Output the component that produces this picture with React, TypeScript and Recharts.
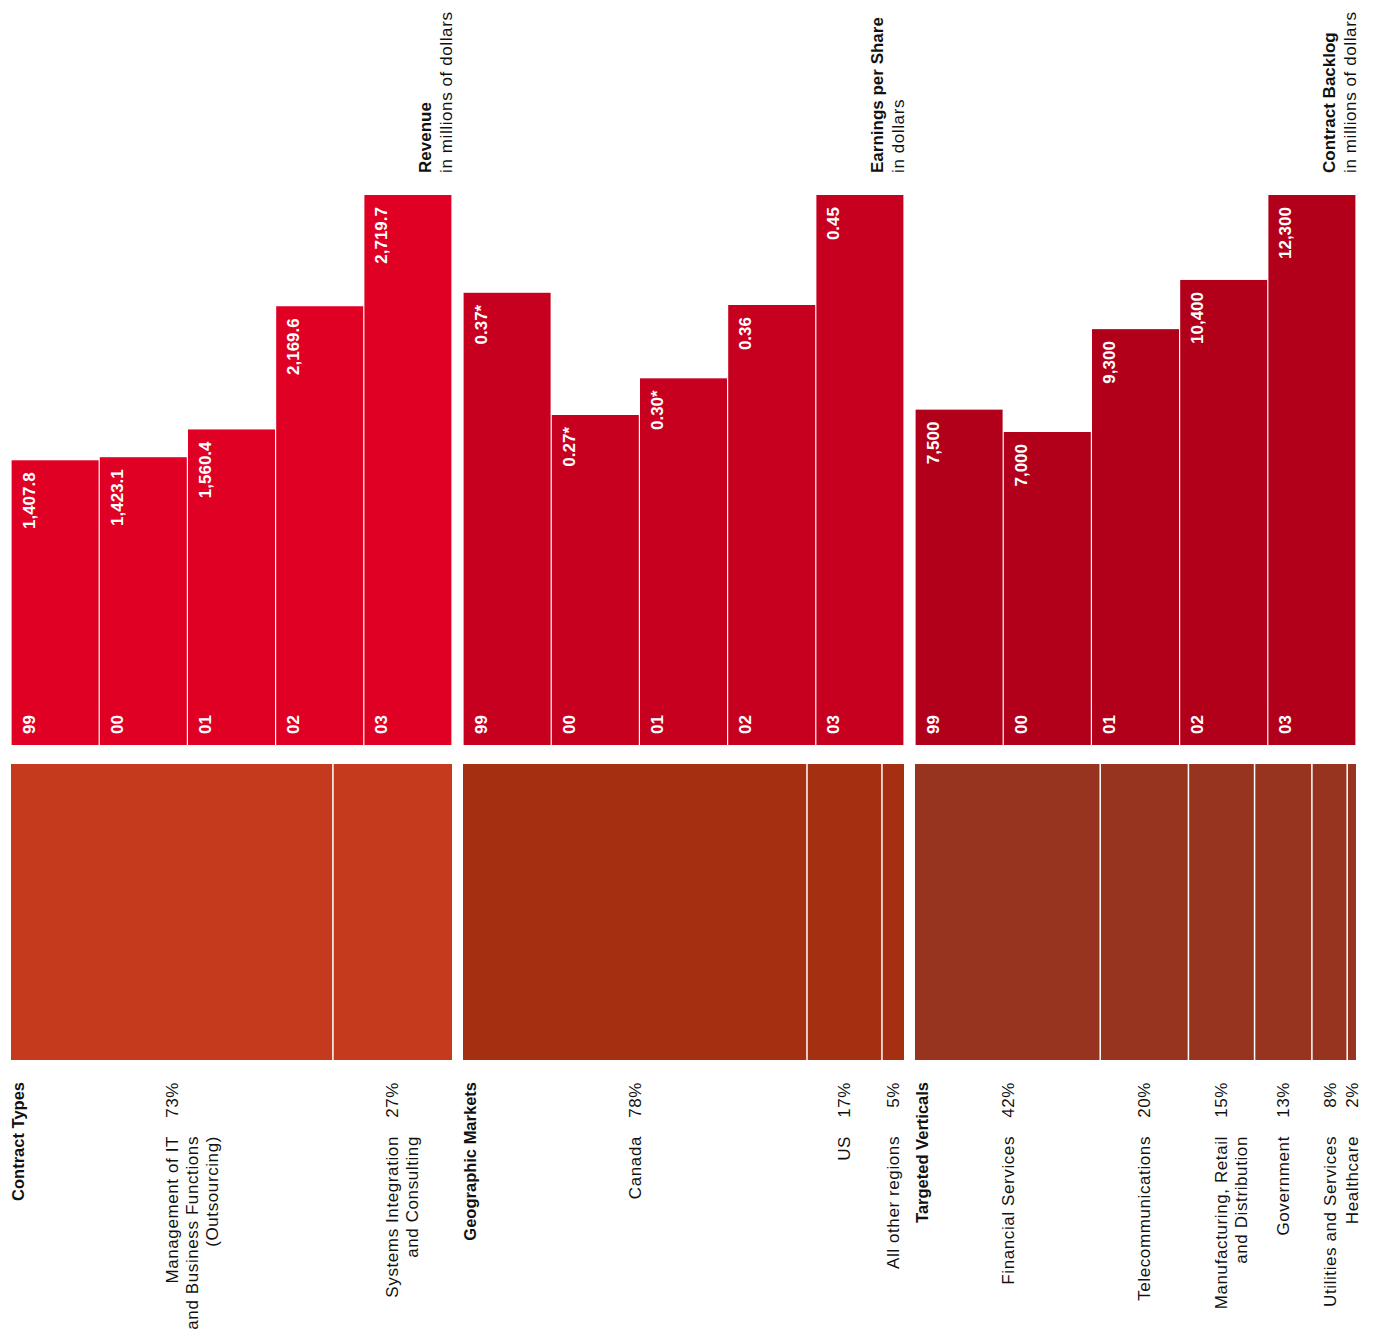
import { Bar, BarChart, XAxis, YAxis } from "recharts";

const years = ["99", "00", "01", "02", "03"];

const revenue = [1407.8, 1423.1, 1560.4, 2169.6, 2719.7];
const revenueLabels = ["1,407.8", "1,423.1", "1,560.4", "2,169.6", "2,719.7"];
const eps = [0.37, 0.27, 0.3, 0.36, 0.45];
const epsLabels = ["0.37*", "0.27*", "0.30*", "0.36", "0.45"];
const backlog = [7500, 7000, 9300, 10400, 12300];
const backlogLabels = ["7,500", "7,000", "9,300", "10,400", "12,300"];

const contractTypes = [
  ["Management of IT", "and Business Functions", "(Outsourcing)"],
  ["Systems Integration", "and Consulting"],
];
const contractShares = [73, 27];
const markets = [["Canada"], ["US"], ["All other regions"]];
const marketShares = [78, 17, 5];
const verticals = [
  ["Financial Services"],
  ["Telecommunications"],
  ["Manufacturing, Retail", "and Distribution"],
  ["Government"],
  ["Utilities and Services"],
  ["Healthcare"],
];
const verticalShares = [42, 20, 15, 13, 8, 2];

const FONT = "'Liberation Sans', Arial, sans-serif";
const PANEL_W = 441;
const TOP_Y = 195;
const TOP_H = 550;
const BOTTOM_Y = 764;
const STRIP_H = 296;
const BOTTOM_EXTRA = 276;
const SIDE_ROOM = 16;

type Panel = {
  left: number;
  title: string;
  unit: string;
  values: number[];
  labels: string[];
  barColor: string;
  header: string;
  segments: string[][];
  shares: number[];
  stripColor: string;
};

const panels: Panel[] = [
  {
    left: 11,
    title: "Revenue",
    unit: "in millions of dollars",
    values: revenue,
    labels: revenueLabels,
    barColor: "#e00024",
    header: "Contract Types",
    segments: contractTypes,
    shares: contractShares,
    stripColor: "#c53a1c",
  },
  {
    left: 463,
    title: "Earnings per Share",
    unit: "in dollars",
    values: eps,
    labels: epsLabels,
    barColor: "#c8001f",
    header: "Geographic Markets",
    segments: markets,
    shares: marketShares,
    stripColor: "#a52f11",
  },
  {
    left: 915,
    title: "Contract Backlog",
    unit: "in millions of dollars",
    values: backlog,
    labels: backlogLabels,
    barColor: "#b2001b",
    header: "Targeted Verticals",
    segments: verticals,
    shares: verticalShares,
    stripColor: "#963420",
  },
];

function rotated(x: number, y: number) {
  return `rotate(-90 ${x} ${y})`;
}

function YearBar(props: any) {
  const { x, y, width, height, payload, fill } = props;
  const tx = x + 23;
  const top = y + 12;
  const bottom = y + height - 11;
  return (
    <g>
      <rect x={x} y={y} width={width} height={height} fill={fill} />
      <text x={tx} y={top} transform={rotated(tx, top)} textAnchor="end" fill="#fff" fontSize={17} fontWeight={700} fontFamily={FONT}>
        {payload.label}
      </text>
      <text x={tx} y={bottom} transform={rotated(tx, bottom)} textAnchor="start" fill="#fff" fontSize={17} fontWeight={700} fontFamily={FONT}>
        {payload.year}
      </text>
    </g>
  );
}

function segmentShape(lines: string[], share: number, color: string, first: boolean) {
  return (props: any) => {
    const { x, y, width, height } = props;
    const cx = x + width / 2 + 6;
    const base = y + height;
    const pctY = base + 22;
    const nameY = base + 76;
    return (
      <g>
        <rect x={x} y={y} width={width} height={height} fill={color} />
        {first ? null : <line x1={x} x2={x} y1={y} y2={base} stroke="#fff" strokeWidth={1.5} />}
        <text x={cx} y={pctY} transform={rotated(cx, pctY)} textAnchor="end" fill="#111" fontSize={17} letterSpacing={0.6} fontFamily={FONT}>
          {`${share}%`}
        </text>
        {lines.map((line, k) => (
          <text
            key={line}
            x={cx + 20 * k}
            y={nameY}
            transform={rotated(cx + 20 * k, nameY)}
            textAnchor="end"
            fill="#111"
            fontSize={17}
            letterSpacing={0.6}
            fontFamily={FONT}
          >
            {line}
          </text>
        ))}
      </g>
    );
  };
}

function PanelCharts({ panel }: { panel: Panel }) {
  const barData = years.map((year, i) => ({ year, value: panel.values[i], label: panel.labels[i] }));
  const max = Math.max(...panel.values);
  const stripRow: Record<string, number | string> = { name: panel.header };
  panel.shares.forEach((s, i) => {
    stripRow[`s${i}`] = s;
  });

  return (
    <>
      <div style={{ position: "absolute", left: panel.left, top: TOP_Y }}>
        <BarChart width={PANEL_W} height={TOP_H} data={barData} margin={{ top: 0, right: 0, bottom: 0, left: 0 }} barCategoryGap={0.6}>
          <XAxis dataKey="year" hide />
          <YAxis hide domain={[0, max]} />
          <Bar dataKey="value" fill={panel.barColor} shape={YearBar} isAnimationActive={false} />
        </BarChart>
      </div>
      <div style={{ position: "absolute", left: panel.left, top: BOTTOM_Y }}>
        <BarChart
          width={PANEL_W + SIDE_ROOM}
          height={STRIP_H + BOTTOM_EXTRA}
          data={[stripRow]}
          layout="vertical"
          margin={{ top: 0, right: SIDE_ROOM, bottom: BOTTOM_EXTRA, left: 0 }}
          barCategoryGap={0}
        >
          <XAxis type="number" hide domain={[0, 100]} />
          <YAxis type="category" dataKey="name" hide />
          {panel.shares.map((s, i) => (
            <Bar
              key={i}
              dataKey={`s${i}`}
              stackId="share"
              fill={panel.stripColor}
              shape={segmentShape(panel.segments[i], s, panel.stripColor, i === 0)}
              isAnimationActive={false}
            />
          ))}
        </BarChart>
      </div>
    </>
  );
}

export default function App() {
  return (
    <div style={{ position: "absolute", left: 0, top: 0, width: 1373, height: 1336, background: "#fff", fontFamily: FONT }}>
      {panels.map((p) => (
        <PanelCharts key={p.title} panel={p} />
      ))}
      <svg width={1373} height={1336} style={{ position: "absolute", left: 0, top: 0, pointerEvents: "none" }}>
        {panels.map((p) => {
          const right = p.left + PANEL_W;
          const t1 = right - 21;
          const hx = p.left + 13;
          return (
            <g key={p.title}>
              <text x={t1} y={173} transform={rotated(t1, 173)} fontSize={17} fontWeight={700} fill="#111" fontFamily={FONT}>
                {p.title}
              </text>
              <text x={right} y={173} transform={rotated(right, 173)} fontSize={17} letterSpacing={0.6} fill="#111" fontFamily={FONT}>
                {p.unit}
              </text>
              <text x={hx} y={1082} transform={rotated(hx, 1082)} textAnchor="end" fontSize={16.5} fontWeight={700} fill="#111" fontFamily={FONT}>
                {p.header}
              </text>
            </g>
          );
        })}
      </svg>
    </div>
  );
}
